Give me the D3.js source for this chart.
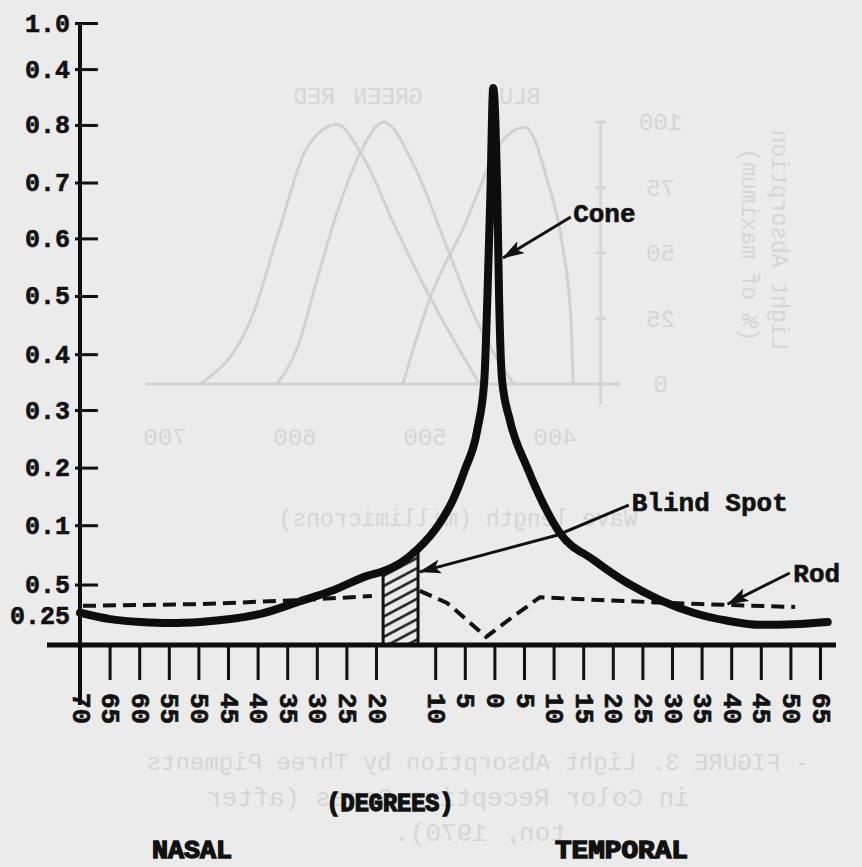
<!DOCTYPE html>
<html>
<head>
<meta charset="utf-8">
<script src="https://cdn.jsdelivr.net/npm/d3@7"></script>
<style>
  html, body { margin: 0; padding: 0; background: #ebebeb; }
  svg { display: block; }
  .type { font-family: 'Liberation Mono', 'DejaVu Sans Mono', monospace; font-weight: bold; fill: #111; }
  .ghost { font-family: 'Liberation Mono', 'DejaVu Sans Mono', monospace; fill: #d6d6d6; }
</style>
</head>
<body>
<svg id="chart" width="862" height="867"></svg>
<script>
// degrees from the fovea (nasal negative, temporal positive)
// y values are in axis steps: one step per labelled tick
const coneDeg = [-70, -64.9, -59.8, -54.7, -49.7, -44.6, -39.5, -32.8, -27.2, -21.5, -18.8, -15.9, -13.1, -9.2, -7.0, -5.0, -2.9, -1.7, -1.2, -0.7, -0.2, 0.5, 0.8, 1.3, 2.6, 5.5, 7.7, 11.1, 16.7, 22.4, 28.0, 33.6, 39.4, 44.9, 50.5, 56.3];
const coneVal = [0.56, 0.45, 0.40, 0.38, 0.40, 0.45, 0.54, 0.76, 0.95, 1.20, 1.28, 1.42, 1.65, 2.12, 2.52, 3.04, 3.73, 4.60, 5.99, 7.73, 9.67, 7.73, 5.99, 4.60, 3.91, 3.09, 2.57, 1.94, 1.48, 1.08, 0.78, 0.56, 0.42, 0.35, 0.36, 0.40];

const rodDeg = [-69.5, -49.7, -32.9, -20.7, -16, -12.6, -8.0, -4.6, -1.4, 3.1, 7.7, 17.8, 34.7, 50.8];
const rodVal = [0.68, 0.71, 0.78, 0.85, null, 0.94, 0.73, 0.43, 0.14, 0.49, 0.83, 0.78, 0.71, 0.66];

const blindSpot = [-18.8, -12.9];

const xTickValues = [-70, -65, -60, -55, -50, -45, -40, -35, -30, -25, -20, -10, -5, 0, 5, 10, 15, 20, 25, 30, 35, 40, 45, 50, 55];
const xTickLabels = ['70', '65', '60', '55', '50', '45', '40', '35', '30', '25', '20', '10', '5', '0', '5', '10', '15', '20', '25', '30', '35', '40', '45', '50', '65'];

const yTickValues = [0.52, 1.05, 2.08, 3.08, 4.08, 5.05, 6.06, 7.06, 8.03, 9.03, 10, 10.8];
const yTickLabels = ['0.25', '0.5', '0.1', '0.2', '0.3', '0.4', '0.5', '0.6', '0.7', '0.8', '0.4', '1.0'];

const annotations = [
  { text: 'Cone', label: [13.3, 7.34], path: [[12.9, 7.43], [1.45, 6.72]] },
  { text: 'Blind Spot', label: [23.2, 2.33], path: [[22.7, 2.43], [10.7, 1.91], [-12.6, 1.27]] },
  { text: 'Rod', label: [50.5, 1.09], path: [[49.9, 1.25], [39.4, 0.71]] },
];

// faint show-through figure from the other side of the page
const redWave = [673, 632, 612, 591, 568, 548, 522, 496, 458];
const redAbs = [0, 27, 59, 90, 99, 87, 59, 33, 0];
const greenWave = [614, 598, 583, 568, 548, 532, 509, 483, 463, 432];
const greenAbs = [0, 14, 40, 65, 90, 100, 84, 52, 27, 0];
const blueWave = [517, 496, 471, 440, 423, 406, 394, 388, 386];
const blueAbs = [0, 33, 59, 93, 98, 78, 52, 27, 0];
const ghostWaveTicks = [700, 600, 500, 400];
const ghostAbsTicks = [0, 25, 50, 75, 100];

const svg = d3.select('#chart');

// ---------- ghost layer ----------
const gx = d3.scaleLinear().domain([400, 700]).range([555, 165]);
const gy = d3.scaleLinear().domain([0, 100]).range([384, 122]);
const ghost = svg.append('g').attr('class', 'ghost-layer');

const ghostLine = d3.line()
  .x((d) => gx(d[0]))
  .y((d) => gy(d[1]))
  .curve(d3.curveMonotoneX);

[[redWave, redAbs], [greenWave, greenAbs], [blueWave, blueAbs]].forEach(([w, a]) => {
  const pts = w.map((v, i) => [v, a[i]]).sort((p, q) => p[0] - q[0]);
  ghost.append('path')
    .attr('d', ghostLine(pts))
    .attr('fill', 'none')
    .attr('stroke', '#d1d1d1')
    .attr('stroke-width', 3);
});

ghost.append('line')
  .attr('x1', gx(715)).attr('x2', gx(350))
  .attr('y1', gy(0)).attr('y2', gy(0))
  .attr('stroke', '#d1d1d1').attr('stroke-width', 3);
ghost.append('line')
  .attr('x1', gx(365)).attr('x2', gx(365))
  .attr('y1', gy(100)).attr('y2', gy(-8))
  .attr('stroke', '#d4d4d4').attr('stroke-width', 2.5);
ghost.selectAll('.gtick')
  .data(ghostAbsTicks.slice(1))
  .enter()
  .append('line')
  .attr('x1', gx(369)).attr('x2', gx(361))
  .attr('y1', (d) => gy(d)).attr('y2', (d) => gy(d))
  .attr('stroke', '#d4d4d4').attr('stroke-width', 2.5);

// mirrored glyphs, as seen through the paper
function ghostText(txt, cx, cy, size, rot) {
  ghost.append('text')
    .attr('class', 'ghost')
    .attr('transform', `translate(${cx},${cy}) rotate(${rot || 0}) scale(-1,1)`)
    .attr('text-anchor', 'middle')
    .attr('dy', '0.35em')
    .style('font-size', `${size}px`)
    .text(txt);
}
ghostText('RED', 314, 96, 23);
ghostText('GREEN', 388, 96, 23);
ghostText('BLUE', 513, 96, 23);
ghostAbsTicks.forEach((d) => ghostText(String(d), gx(365) + 60, gy(d), 24));
ghostWaveTicks.forEach((d) => ghostText(String(d), gx(d), 437, 24));
ghostText('Light Absorption', 780, 240, 23, 90);
ghostText('(% of maximum)', 750, 245, 23, 90);
ghostText('Wave length (millimicrons)', 458, 518, 23);
ghostText('- FIGURE 3.  Light Absorption by Three Pigments', 478, 762, 24);
ghostText('in Color Receptive Cones (after', 448, 797, 26);
ghostText('ton, 1970).', 480, 832, 26);

// ---------- main chart ----------
const x = d3.scaleLinear().domain([-70, 55]).range([80, 820]);
const y = d3.scaleLinear().domain([0, 10.8]).range([645, 23]);

const cone = coneDeg.map((d, i) => [d, coneVal[i]]);
const rod = rodDeg.map((d, i) => [d, rodVal[i]]);

const defs = svg.append('defs');
const hatch = defs.append('pattern')
  .attr('id', 'hatch')
  .attr('patternUnits', 'userSpaceOnUse')
  .attr('width', 10)
  .attr('height', 9)
  .attr('patternTransform', 'rotate(-28)');
hatch.append('line')
  .attr('x1', 0).attr('x2', 10).attr('y1', 4.5).attr('y2', 4.5)
  .attr('stroke', '#111').attr('stroke-width', 2.4);

defs.append('marker')
  .attr('id', 'head')
  .attr('viewBox', '0 0 22 14')
  .attr('refX', 21)
  .attr('refY', 7)
  .attr('markerWidth', 22)
  .attr('markerHeight', 14)
  .attr('markerUnits', 'userSpaceOnUse')
  .attr('orient', 'auto')
  .append('path')
  .attr('d', 'M0,0 L22,7 L0,14 L5,7 Z')
  .attr('fill', '#111');

const coneLine = d3.line()
  .x((d) => x(d[0]))
  .y((d) => y(d[1]))
  .curve(d3.curveMonotoneX);

const coneArea = d3.area()
  .x((d) => x(d[0]))
  .y0(y(0))
  .y1((d) => y(d[1]))
  .curve(d3.curveMonotoneX);

defs.append('clipPath')
  .attr('id', 'under-cone')
  .append('path')
  .attr('d', coneArea(cone));

// blind spot
svg.append('rect')
  .attr('x', x(blindSpot[0]))
  .attr('width', x(blindSpot[1]) - x(blindSpot[0]))
  .attr('y', y.range()[1])
  .attr('height', y(0) - y.range()[1])
  .attr('clip-path', 'url(#under-cone)')
  .attr('fill', 'url(#hatch)')
  .attr('stroke', '#111')
  .attr('stroke-width', 3);

// rod
const rodLine = d3.line()
  .defined((d) => d[1] !== null)
  .x((d) => x(d[0]))
  .y((d) => y(d[1]));

svg.append('path')
  .attr('d', rodLine(rod))
  .attr('fill', 'none')
  .attr('stroke', '#111')
  .attr('stroke-width', 4)
  .attr('stroke-dasharray', '13 7');

// cone
svg.append('path')
  .attr('d', coneLine(cone))
  .attr('fill', 'none')
  .attr('stroke', '#0d0d0d')
  .attr('stroke-width', 8)
  .attr('stroke-linecap', 'round')
  .attr('stroke-linejoin', 'round');

// x axis
const xAxis = d3.axisBottom(x)
  .tickValues(xTickValues)
  .tickFormat((d) => xTickLabels[xTickValues.indexOf(d)])
  .tickSizeInner(35)
  .tickSizeOuter(0);

const gX = svg.append('g')
  .attr('transform', `translate(0,${y(0)})`)
  .call(xAxis);
gX.select('.domain').remove();
gX.selectAll('.tick line')
  .attr('stroke', '#111')
  .attr('stroke-width', 3)
  .attr('y2', (d) => (d === xTickValues[0] ? 60 : 35));
gX.selectAll('.tick text')
  .attr('class', 'type')
  .attr('x', 0)
  .attr('y', 0)
  .attr('dy', '0.34em')
  .attr('text-anchor', 'start')
  .attr('transform', 'translate(1,48) rotate(90)')
  .style('font-size', '26px')
  .attr('stroke', '#111')
  .attr('stroke-width', 0.6);
gX.append('line')
  .attr('x1', x.range()[0] - 33)
  .attr('x2', x.range()[1] + 16)
  .attr('stroke', '#0d0d0d')
  .attr('stroke-width', 5);

// y axis
const yAxis = d3.axisLeft(y)
  .tickValues(yTickValues)
  .tickFormat((d) => yTickLabels[yTickValues.indexOf(d)])
  .tickSizeInner(-18)
  .tickSizeOuter(0)
  .tickPadding(10);

const gY = svg.append('g')
  .attr('transform', `translate(${x(-70)},0)`)
  .call(yAxis);
gY.select('.domain').remove();
gY.selectAll('.tick line')
  .attr('x1', -5)
  .attr('stroke', '#111')
  .attr('stroke-width', 3)
  .attr('opacity', (d) => (d === yTickValues[0] ? 0 : 1));
gY.selectAll('.tick text')
  .attr('class', 'type')
  .style('font-size', '25px')
  .attr('stroke', '#111')
  .attr('stroke-width', 0.6);
gY.append('line')
  .attr('y1', y.range()[1])
  .attr('y2', y(0) + 60)
  .attr('stroke', '#0d0d0d')
  .attr('stroke-width', 4);

// annotations
const annLine = d3.line()
  .x((d) => x(d[0]))
  .y((d) => y(d[1]));

annotations.forEach((a) => {
  svg.append('path')
    .attr('d', annLine(a.path))
    .attr('fill', 'none')
    .attr('stroke', '#111')
    .attr('stroke-width', 3)
    .attr('marker-end', 'url(#head)');
  svg.append('text')
    .attr('class', 'type')
    .attr('x', x(a.label[0]))
    .attr('y', y(a.label[1]))
    .style('font-size', '26px')
    .attr('stroke', '#111')
    .attr('stroke-width', 0.6)
    .text(a.text);
});

// axis titles
svg.append('text')
  .attr('class', 'type')
  .attr('x', 390)
  .attr('y', 811)
  .attr('text-anchor', 'middle')
  .attr('textLength', 127)
  .attr('lengthAdjust', 'spacingAndGlyphs')
  .style('font-size', '25px')
  .attr('stroke', '#111')
  .attr('stroke-width', 1.4)
  .text('(DEGREES)');

svg.append('text')
  .attr('class', 'type')
  .attr('x', 152)
  .attr('y', 858)
  .attr('textLength', 80)
  .attr('lengthAdjust', 'spacingAndGlyphs')
  .style('font-size', '25px')
  .attr('stroke', '#111')
  .attr('stroke-width', 1.4)
  .text('NASAL');

svg.append('text')
  .attr('class', 'type')
  .attr('x', 555)
  .attr('y', 858)
  .attr('textLength', 133)
  .attr('lengthAdjust', 'spacingAndGlyphs')
  .style('font-size', '25px')
  .attr('stroke', '#111')
  .attr('stroke-width', 1.4)
  .text('TEMPORAL');
</script>
</body>
</html>
